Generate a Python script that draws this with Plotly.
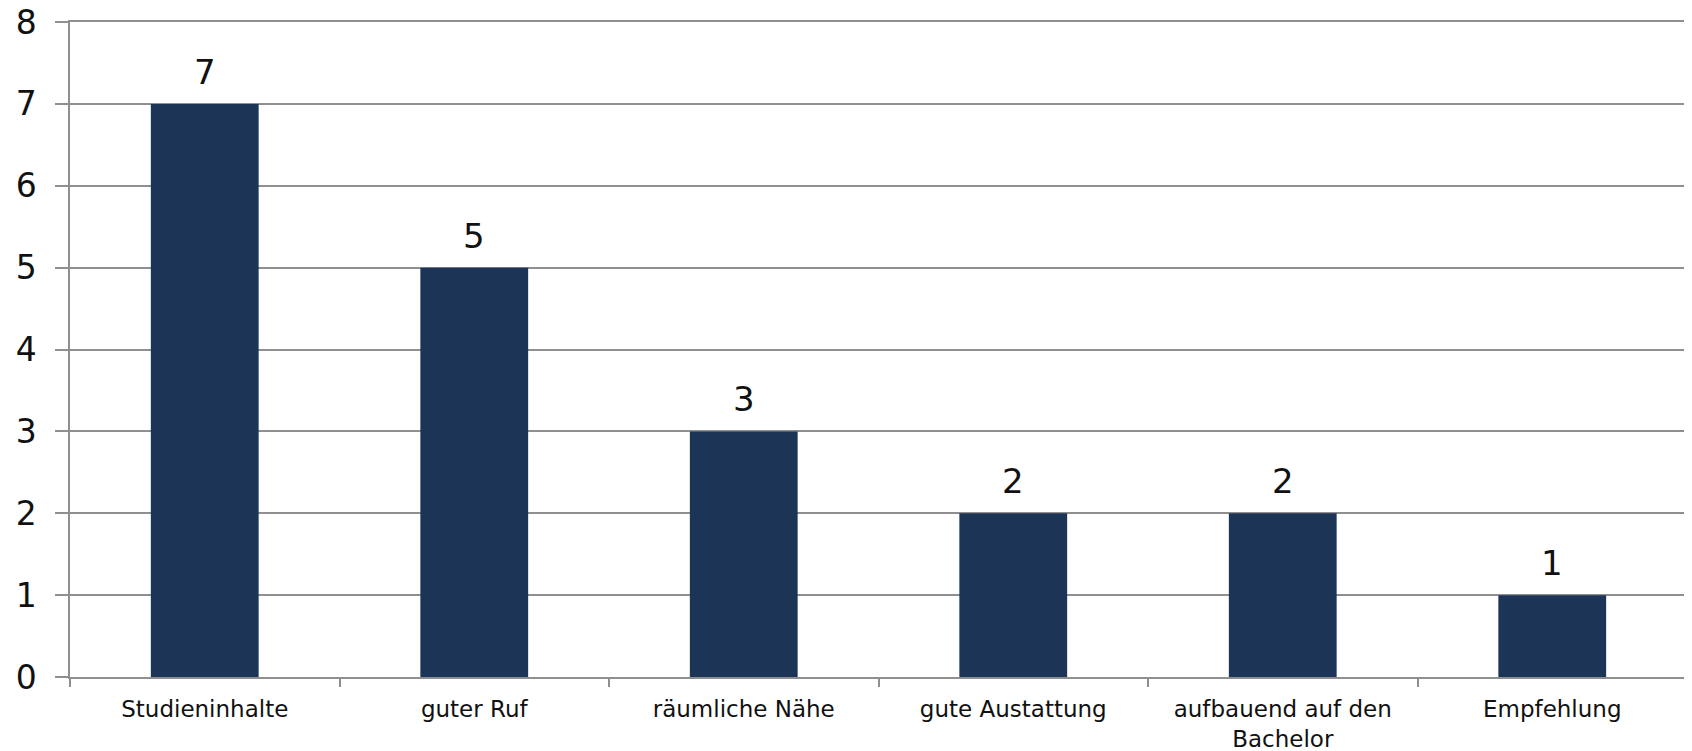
import plotly.graph_objects as go

categories = ["Studieninhalte", "guter Ruf", "räumliche Nähe", "gute Austattung",
              "aufbauend auf den<br>Bachelor", "Empfehlung"]
values = [7, 5, 3, 2, 2, 1]
y_ticks = [0, 1, 2, 3, 4, 5, 6, 7, 8]

bar_color = "#1C3557"
grid_color = "#8F8F8F"
font_family = "DejaVu Sans"

fig = go.Figure()
fig.add_trace(go.Bar(
    x=categories, y=values, marker=dict(color=bar_color, line=dict(width=0)),
    width=0.4, hoverinfo="skip",
))

for c, v in zip(categories, values):
    fig.add_annotation(x=c, y=v, text=str(v), showarrow=False, yanchor="bottom",
                       yshift=10, font=dict(family=font_family, size=34, color="#111111"))

fig.update_layout(
    width=1684, height=743,
    margin=dict(l=62, r=5, t=14, b=74),
    plot_bgcolor="white", paper_bgcolor="white",
    showlegend=False,
    bargap=0.6,
    xaxis=dict(
        showgrid=False, showline=True, linecolor=grid_color, linewidth=1.5,
        mirror=True,
        ticks="outside", ticklen=8, tickcolor=grid_color, tickwidth=1.5,
        tickson="boundaries", automargin=False, ticklabelstandoff=11,
        tickfont=dict(family=font_family, size=23, color="#111111"),
        fixedrange=True,
    ),
    yaxis=dict(
        range=[0, 8], tickvals=y_ticks, showgrid=True, gridcolor=grid_color, gridwidth=1.5,
        showline=True, linecolor=grid_color, linewidth=1.5,
        ticks="outside", ticklen=13, tickcolor=grid_color, tickwidth=1.5,
        tickfont=dict(family=font_family, size=33, color="#111111"),
        ticklabelstandoff=12, ticklabeloverflow="allow",
        zeroline=False, fixedrange=True, automargin=False,
    ),
)

fig.write_html("out.html")
